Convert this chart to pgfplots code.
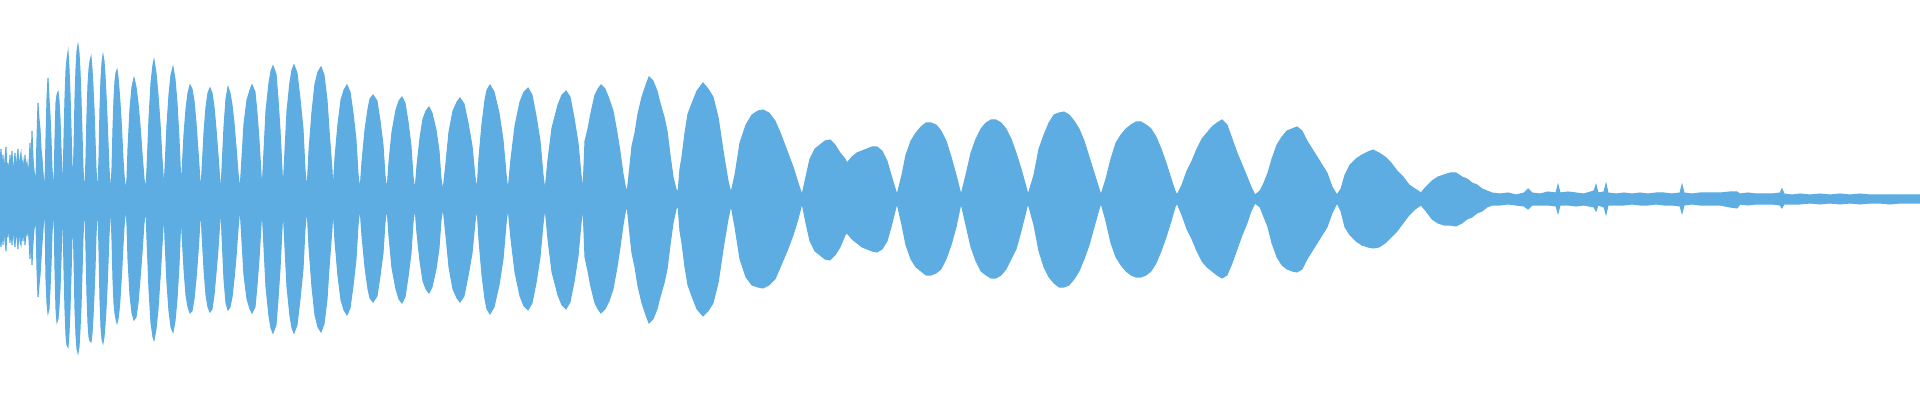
\documentclass[border=0pt]{standalone}
\usepackage{pgfplots}
\usepackage{pgfplotstable}
\pgfplotsset{compat=1.18}
\usepgfplotslibrary{fillbetween}
\definecolor{wave}{HTML}{5DADE2}
\pgfplotstableread{
x t b
0 36 -40
1 50 -48
2 28 -30
3 44 -46
4 24 -26
5 40 -42
6 52 -52
7 26 -28
8 36 -38
9 22 -24
10 44 -44
11 30 -30
12 48 -46
13 24 -26
14 34 -40
15 46 -48
16 28 -30
17 40 -38
18 50 -50
19 26 -26
20 40 -42
21 46 -46
22 30 -30
23 38 -42
24 26 -28
25 44 -46
26 30 -34
27 36 -36
28 24 -28
29 34 -40
30 56 -60
31 30 -34
32 68 -66
33 40 -44
34 28 -30
35 22 -26
36 20 -22
37 60 -70
38 96 -98
39 80 -86
40 70 -76
41 50 -60
42 40 -44
43 26 -30
44 16 -18
45 14 -16
46 60 -80
47 100 -104
48 121 -114
49 100 -110
50 84 -90
51 60 -66
52 30 -34
53 16 -18
54 14 -14
55 60 -70
56 96 -110
57 104 -123
58 107 -120
59 98 -108
60 80 -90
61 50 -60
62 24 -28
63 14 -16
64 60 -70
65 100 -110
66 128 -136
67 140 -146
68 147 -148
69 130 -134
70 106 -110
71 70 -76
72 34 -40
73 14 -16
74 50 -60
75 100 -110
76 130 -136
77 148 -150
78 154 -154
79 146 -148
80 128 -130
81 100 -108
82 66 -74
83 30 -38
84 14 -16
85 10 -12
86 40 -50
87 84 -96
88 114 -124
89 130 -138
90 138 -142
91 142 -143
92 130 -134
93 112 -118
94 90 -96
95 60 -70
96 30 -36
97 14 -16
98 10 -12
99 40 -50
100 90 -100
101 120 -128
102 136 -140
103 144 -144
104 138 -138
105 124 -126
106 104 -110
107 82 -90
108 56 -64
109 30 -36
110 16 -18
111 10 -12
112 30 -40
113 70 -80
114 100 -104
115 118 -114
116 126 -120
117 129 -124
118 122 -120
119 110 -112
120 96 -100
121 80 -84
122 60 -66
123 40 -46
124 24 -28
125 14 -16
126 10 -10
127 20 -26
128 50 -60
130 90 -96
132 112 -114
134 121 -121
136 112 -118
138 96 -104
140 74 -80
142 46 -54
144 20 -24
146 10 -10
147 30 -40
149 80 -90
151 116 -124
153 134 -138
154 139 -141
156 126 -130
158 104 -110
160 76 -80
162 40 -46
164 10 -12
165 30 -40
167 74 -84
169 104 -112
171 124 -128
173 132 -133
175 120 -122
177 96 -100
179 60 -66
181 14 -16
182 26 -34
184 64 -70
186 90 -96
188 106 -108
190 114 -114
192 110 -112
194 98 -100
196 76 -80
198 48 -54
200 18 -22
201 10 -10
202 28 -34
204 66 -70
206 92 -96
208 106 -108
210 111 -113
212 106 -110
214 92 -96
216 70 -74
218 44 -50
220 16 -20
221 10 -10
222 30 -36
224 72 -80
226 100 -104
228 112 -111
230 106 -108
232 94 -98
234 76 -80
236 52 -58
238 26 -30
240 8 -8
242 41 -42
244 75 -76
247 99 -100
250 109 -110
252 114 -114
255 107 -108
257 86 -86
259 59 -60
261 25 -26
262 8 -8
264 48 -48
266 88 -88
269 116 -117
271 128 -129
273 133 -134
276 125 -126
278 100 -100
280 69 -70
282 29 -30
283 8 -8
285 48 -48
287 88 -88
290 117 -117
292 129 -129
294 134 -134
297 126 -126
300 100 -100
303 70 -70
305 29 -30
307 8 -8
309 48 -48
312 87 -88
315 115 -116
318 127 -128
321 132 -133
324 124 -125
327 99 -100
329 69 -69
332 29 -29
333 8 -8
335 41 -42
338 75 -77
341 99 -101
344 109 -111
347 114 -116
350 107 -109
353 86 -87
356 59 -60
358 25 -26
360 8 -8
362 37 -37
365 69 -68
368 90 -90
370 100 -99
373 104 -103
377 98 -97
380 78 -77
383 54 -54
385 23 -23
387 8 -8
389 37 -37
392 67 -69
396 89 -90
399 98 -100
402 102 -104
405 96 -98
408 77 -78
411 53 -54
413 22 -23
415 8 -8
417 33 -34
420 61 -62
423 80 -82
426 88 -90
429 92 -94
432 86 -88
436 69 -70
439 48 -49
441 20 -21
443 8 -8
446 36 -37
449 67 -68
453 88 -90
457 97 -99
460 101 -103
464 95 -97
468 76 -77
472 53 -54
475 22 -23
477 8 -8
479 41 -41
482 75 -76
485 99 -100
487 109 -110
490 114 -115
494 107 -108
499 86 -86
503 59 -60
506 25 -25
508 8 -8
511 40 -40
515 73 -73
520 97 -97
524 107 -107
528 111 -111
532 104 -104
536 83 -84
540 58 -58
543 24 -25
545 8 -8
548 39 -40
552 71 -73
558 94 -96
562 104 -106
566 108 -110
570 102 -103
574 81 -83
578 56 -57
581 24 -24
583 8 -8
585 58 -58
588 70 -72
591 86 -88
595 104 -104
598 110 -110
601 114 -114
605 110 -110
609 100 -102
613 88 -90
617 66 -68
620 47 -48
623 25 -26
625 14 -14
627 6 -6
629 24 -26
632 53 -54
635 66 -68
638 85 -87
642 102 -104
646 114 -116
649 122 -124
653 118 -120
657 108 -110
660 96 -98
664 82 -84
667 68 -70
670 44 -46
673 22 -24
676 10 -10
678 6 -6
680 30 -32
682 42 -44
685 66 -68
688 85 -86
693 98 -100
697 108 -110
703 116 -117
708 110 -112
713 102 -104
718 82 -84
721 62 -64
724 42 -44
728 18 -20
731 6 -6
735 24 -28
740 56 -60
746 74 -78
752 84 -86
758 88 -88
763 89 -89
769 86 -86
775 78 -80
781 64 -66
787 48 -52
793 32 -36
798 16 -20
802 4 -4
806 22 -24
810 40 -42
815 50 -52
820 54 -56
825 58 -60
830 59 -61
835 54 -56
840 46 -48
845 40 -36
847 36 -34
852 42 -40
857 46 -44
862 48 -48
867 50 -50
872 52 -52
877 52 -53
882 48 -50
887 38 -42
891 24 -28
894 14 -16
897 4 -4
902 24 -26
906 44 -46
911 58 -60
916 66 -68
921 72 -72
926 76 -76
931 76 -76
936 74 -74
941 68 -70
946 58 -60
951 42 -46
956 24 -28
961 4 -4
966 24 -26
971 46 -48
976 60 -62
981 70 -72
986 76 -76
991 79 -79
996 79 -79
1001 76 -76
1006 70 -70
1011 60 -60
1016 46 -50
1021 30 -32
1026 12 -12
1028 4 -4
1034 24 -26
1039 50 -52
1044 64 -68
1049 76 -78
1054 84 -84
1059 86 -88
1064 87 -88
1069 84 -86
1074 78 -80
1079 70 -72
1084 58 -60
1089 42 -46
1094 26 -28
1099 10 -10
1101 4 -4
1106 20 -22
1111 40 -44
1116 56 -58
1121 64 -66
1126 70 -72
1131 74 -76
1136 77 -78
1141 77 -78
1146 74 -76
1151 70 -72
1156 62 -64
1161 50 -52
1166 36 -38
1171 20 -22
1175 8 -8
1177 4 -4
1182 14 -16
1187 28 -30
1192 38 -40
1197 50 -52
1202 60 -62
1207 66 -68
1212 72 -72
1217 76 -76
1222 79 -79
1227 74 -76
1232 60 -64
1237 46 -50
1242 34 -36
1247 22 -24
1251 12 -12
1255 4 -4
1260 8 -8
1264 16 -18
1268 26 -28
1272 40 -44
1277 54 -58
1282 62 -66
1287 68 -70
1292 70 -72
1297 72 -73
1302 68 -70
1307 58 -60
1312 50 -52
1317 42 -44
1322 34 -36
1327 26 -28
1332 12 -14
1337 4 -4
1341 10 -12
1345 24 -28
1350 34 -36
1356 40 -42
1362 44 -46
1368 47 -48
1373 49 -49
1379 46 -48
1385 42 -44
1391 36 -38
1397 28 -32
1403 22 -24
1409 14 -16
1415 10 -10
1421 6 -6
1426 12 -12
1432 18 -20
1438 22 -24
1444 24 -26
1450 26 -26
1456 26 -27
1462 22 -24
1467 20 -20
1472 16 -18
1477 14 -14
1482 10 -12
1487 8 -8
1492 6 -6
1500 5 -6
1508 6 -5
1516 4 -6
1524 6 -7
1528 10 -10
1532 6 -6
1540 5 -6
1548 7 -6
1556 6 -7
1558 14 -14
1560 6 -6
1568 7 -6
1576 6 -7
1584 5 -6
1594 8 -8
1596 14 -12
1598 6 -6
1604 7 -8
1606 15 -15
1608 6 -6
1616 5 -6
1624 6 -6
1632 5 -5
1640 6 -6
1648 5 -6
1656 6 -5
1664 6 -6
1672 5 -6
1680 6 -7
1682 14 -14
1684 6 -6
1692 5 -5
1700 6 -6
1710 6 -6
1720 6 -6
1730 7 -8
1737 7 -9
1740 5 -5
1748 6 -6
1756 5 -5
1764 5 -5
1772 5 -5
1780 6 -6
1782 10 -9
1784 5 -5
1792 4 -5
1800 5 -5
1810 4 -4
1820 5 -5
1830 4 -4
1840 5 -5
1850 4 -4
1860 5 -5
1870 4 -4
1880 4 -4
1890 4 -5
1900 4 -4
1910 4 -4
1920 4 -4
}\wavedata
\begin{document}
\begin{tikzpicture}
\begin{axis}[
  width=19.2cm, height=4cm, scale only axis,
  xmin=0, xmax=1920, ymin=-201, ymax=199,
  axis line style={draw=none}, ticks=none,
  clip=true,
]
\addplot[draw=none, name path=top] table[x=x, y=t] {\wavedata};
\addplot[draw=none, name path=bot] table[x=x, y=b] {\wavedata};
\addplot[fill=wave, draw=wave, line width=0.3pt] fill between[of=top and bot];
\end{axis}
\end{tikzpicture}
\end{document}
